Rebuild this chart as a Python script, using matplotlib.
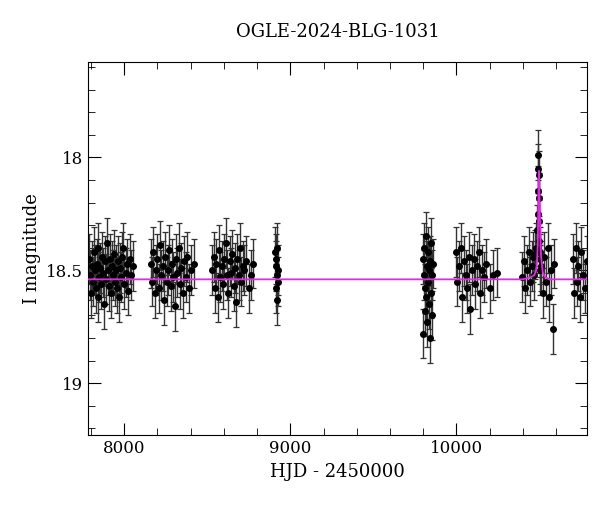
import matplotlib
matplotlib.use("Agg")
import matplotlib.pyplot as plt
from matplotlib.ticker import MultipleLocator

plt.rcParams["font.family"] = "DejaVu Serif"

TITLE = "OGLE-2024-BLG-1031"

hjd = [
    7790, 7796, 7802, 7808, 7813, 7818, 7823, 7829, 7834, 7840, 7845, 7851, 7857, 7862, 7868, 7874,
    7880, 7886, 7892, 7898, 7904, 7910, 7916, 7922, 7928, 7934, 7940, 7946, 7952, 7958, 7964, 7970,
    7976, 7982, 7988, 7994, 8000, 8008, 8016, 8024, 8032, 8040, 8050,
    8160, 8168, 8176, 8184, 8192, 8200, 8208, 8216, 8224, 8232, 8240, 8248, 8256, 8264, 8272, 8280,
    8288, 8296, 8304, 8312, 8320, 8328, 8336, 8344, 8352, 8360, 8370, 8380, 8392, 8405, 8418,
    8530, 8538, 8546, 8554, 8562, 8570, 8578, 8586, 8594, 8602, 8610, 8618, 8626, 8634, 8642, 8650,
    8658, 8666, 8674, 8682, 8690, 8698, 8706, 8714, 8724, 8736, 8750, 8765, 8778,
    8908, 8911, 8914, 8916, 8918, 8920, 8922, 8924, 8926,
    9797, 9800, 9803, 9806, 9809, 9812, 9815, 9818, 9821, 9824, 9827, 9830, 9833, 9836, 9839, 9842,
    9845, 9848, 9851, 9855, 9860,
    9995, 10005, 10015, 10025, 10035, 10045, 10055, 10065, 10075, 10085, 10095, 10105, 10115,
    10125, 10135, 10145, 10155, 10165, 10180, 10200, 10220, 10245,
    10395, 10405, 10415, 10425, 10435, 10445, 10455, 10462, 10470, 10476, 10482, 10486,
    10489, 10491, 10493, 10494, 10495, 10496, 10497, 10499, 10501, 10503, 10506, 10510,
    10520, 10530, 10540, 10550, 10560, 10570, 10580, 10590,
    10700, 10710, 10718, 10726, 10734, 10742, 10750, 10760, 10772, 10785,
]
imag = [
    18.45, 18.52, 18.60, 18.48, 18.55, 18.42, 18.50, 18.58, 18.47, 18.62, 18.40, 18.53, 18.49, 18.56, 18.44, 18.51,
    18.65, 18.46, 18.54, 18.38, 18.50, 18.57, 18.45, 18.60, 18.48, 18.52, 18.43, 18.55, 18.50, 18.58, 18.46, 18.62,
    18.49, 18.53, 18.44, 18.40, 18.56, 18.51, 18.47, 18.59, 18.45, 18.52, 18.48,
    18.47, 18.55, 18.42, 18.60, 18.50, 18.45, 18.58, 18.39, 18.52, 18.48, 18.63, 18.44, 18.55, 18.50, 18.41, 18.57,
    18.47, 18.53, 18.66, 18.45, 18.51, 18.40, 18.56, 18.49, 18.60, 18.46, 18.53, 18.44, 18.58, 18.50, 18.47,
    18.50, 18.44, 18.58, 18.47, 18.62, 18.41, 18.53, 18.48, 18.56, 18.45, 18.38, 18.52, 18.60, 18.46, 18.51, 18.43,
    18.57, 18.49, 18.64, 18.45, 18.52, 18.40, 18.55, 18.48, 18.50, 18.46, 18.58, 18.52, 18.47,
    18.42, 18.48, 18.58, 18.45, 18.63, 18.52, 18.40, 18.55, 18.50,
    18.45, 18.78, 18.52, 18.40, 18.68, 18.58, 18.35, 18.62, 18.48, 18.73, 18.55, 18.42, 18.65, 18.50, 18.80, 18.46,
    18.60, 18.38, 18.70, 18.52, 18.47,
    18.42, 18.55, 18.48, 18.40, 18.62, 18.46, 18.52, 18.58, 18.44, 18.67, 18.50, 18.45, 18.56,
    18.48, 18.42, 18.60, 18.50, 18.53, 18.47, 18.58, 18.52, 18.51,
    18.53, 18.46, 18.58, 18.50, 18.42, 18.55, 18.48, 18.44, 18.52, 18.43, 18.40, 18.32,
    18.25, 18.15, 18.05, 17.99, 18.08, 18.18, 18.28, 18.37, 18.42, 18.45, 18.50, 18.48,
    18.60, 18.44, 18.55, 18.40, 18.62, 18.50, 18.76, 18.47,
    18.45, 18.60, 18.40, 18.55, 18.48, 18.62, 18.42, 18.52, 18.58, 18.46,
]
ierr = [0.11] * len(hjd)

# fitted model curve
model_t = [7780, 10400, 10450, 10470, 10480, 10486, 10490, 10493, 10495, 10497, 10500,
           10504, 10510, 10520, 10535, 10560, 10800]
model_m = [18.54, 18.54, 18.53, 18.52, 18.50, 18.46, 18.38, 18.25, 18.10, 18.06, 18.14,
           18.30, 18.44, 18.51, 18.53, 18.54, 18.54]

fig = plt.figure(figsize=(6.0, 5.12), dpi=100)
ax = fig.add_axes([0.147, 0.15, 0.832, 0.728])

ax.errorbar(hjd, imag, yerr=ierr, fmt="o", color="black", ms=4,
            ecolor="#333333", elinewidth=1.0, capsize=2.5, capthick=0.9, zorder=2)
ax.plot(model_t, model_m, color="#ee22ee", lw=1.3, zorder=3)

ax.set_xlim(7783, 10789)
ax.set_ylim(19.23, 17.58)
ax.xaxis.set_major_locator(MultipleLocator(1000))
ax.xaxis.set_minor_locator(MultipleLocator(200))
ax.yaxis.set_major_locator(MultipleLocator(0.5))
ax.yaxis.set_minor_locator(MultipleLocator(0.1))
ax.tick_params(which="both", direction="in", top=True, right=True, labelsize=12)
ax.tick_params(which="major", length=9)
ax.tick_params(which="minor", length=5)
ax.set_yticks([18, 18.5, 19])
ax.set_yticklabels(["18", "18.5", "19"])

ax.set_xlabel("HJD - 2450000", fontsize=13)
ax.set_ylabel("I magnitude", fontsize=13)
ax.set_title(TITLE, fontsize=13, pad=18)

fig.savefig("out.png", dpi=100)
